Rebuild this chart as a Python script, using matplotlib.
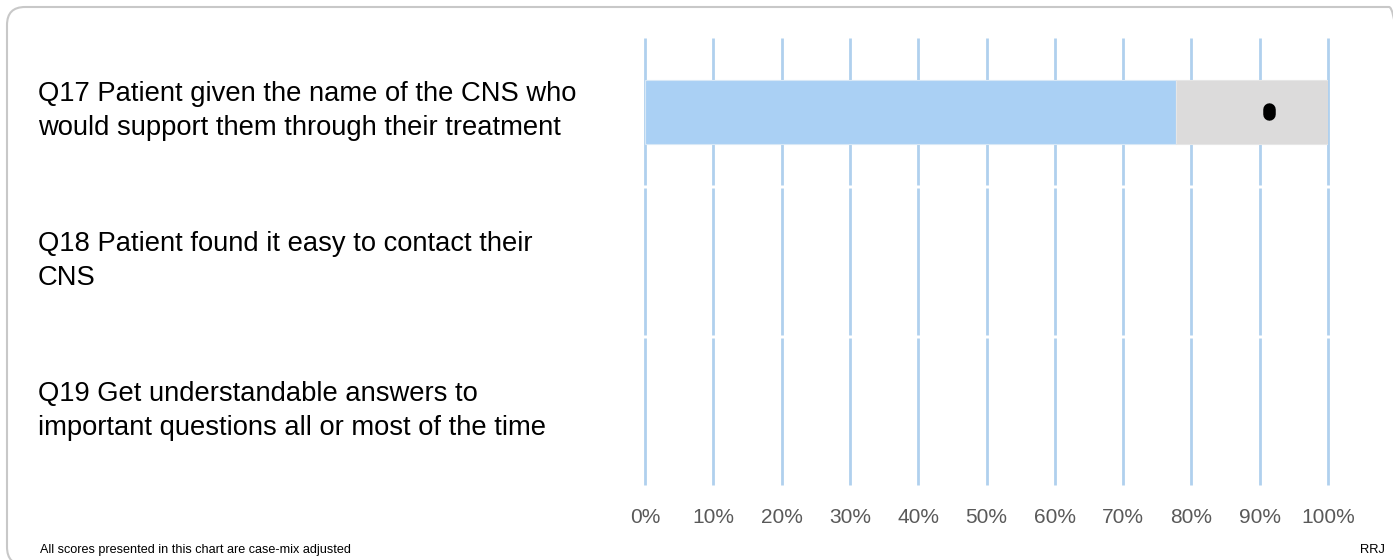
import matplotlib.pyplot as plt
import numpy as np
from matplotlib.patches import FancyBboxPatch

plt.rcParams['font.family'] = ['Liberation Sans', 'DejaVu Sans']

# data
questions = [
    "Q17 Patient given the name of the CNS who\nwould support them through their treatment",
    "Q18 Patient found it easy to contact their\nCNS",
    "Q19 Get understandable answers to\nimportant questions all or most of the time",
]
lower_limit = [77.7, np.nan, np.nan]
upper_limit = [100.0, np.nan, np.nan]
trust_score = [91.3, np.nan, np.nan]
tick_vals = [0, 10, 20, 30, 40, 50, 60, 70, 80, 90, 100]
tick_labels = ["0%", "10%", "20%", "30%", "40%", "50%", "60%", "70%", "80%", "90%", "100%"]
footnote = "All scores presented in this chart are case-mix adjusted"
trust_code = "RRJ"

blue = '#aad0f4'
grey = '#dcdbdb'
grid_col = '#b0d0ee'

fig = plt.figure(figsize=(13.93, 5.6), dpi=100)
ax = fig.add_axes([645 / 1393, 74 / 560, 683 / 1393, 449 / 560])

n = len(questions)
ypos = np.arange(n)

# gridlines, broken at each row boundary
for i in range(n):
    ax.vlines(tick_vals, i - 0.49, i + 0.49, colors=grid_col, linewidth=2,
              zorder=1, clip_on=False)

lo = np.array(lower_limit)
hi = np.array(upper_limit)
ax.barh(ypos, lo, height=0.43, color=blue, edgecolor='#d8e8f6', linewidth=0.8, zorder=2)
ax.barh(ypos, hi - lo, left=lo, height=0.43, color=grey, edgecolor='#e6e6e6',
        linewidth=0.8, zorder=2)

# trust score marker (rounded black pill)
for y, s in zip(ypos, trust_score):
    if not np.isnan(s):
        ax.plot([s, s], [y - 0.016, y + 0.016], color='black', linewidth=9,
                solid_capstyle='round', zorder=3)

ax.set_xlim(0, 100)
ax.set_ylim(n - 0.5, -0.5)
ax.set_xticks(tick_vals)
ax.set_xticklabels(tick_labels, fontsize=15, color='#595959')
ax.tick_params(axis='x', length=0, pad=16)
ax.set_yticks([])
for sp in ax.spines.values():
    sp.set_visible(False)

# question labels on the left, centred on each row
for y, q in zip(ypos, questions):
    fig.text(38 / 1393, (560 - (37 + 150 * y + 74)) / 560, q, fontsize=19.7,
             ha='left', va='center', linespacing=1.38, color='black')

fig.text(40 / 1393, (560 - 550) / 560, footnote, fontsize=9.1, ha='left', va='center')
fig.text(1385 / 1393, (560 - 550) / 560, trust_code, fontsize=9.3, ha='right', va='center')

# rounded frame around the whole chart
frame = FancyBboxPatch((0.07, -0.05), 14.0, 5.53 + 0.05,
                       boxstyle='round,pad=0,rounding_size=0.18',
                       transform=fig.dpi_scale_trans, facecolor='none',
                       edgecolor='#c8c8c8', linewidth=1.5)
fig.patches.append(frame)

fig.savefig('out.png', dpi=100)
